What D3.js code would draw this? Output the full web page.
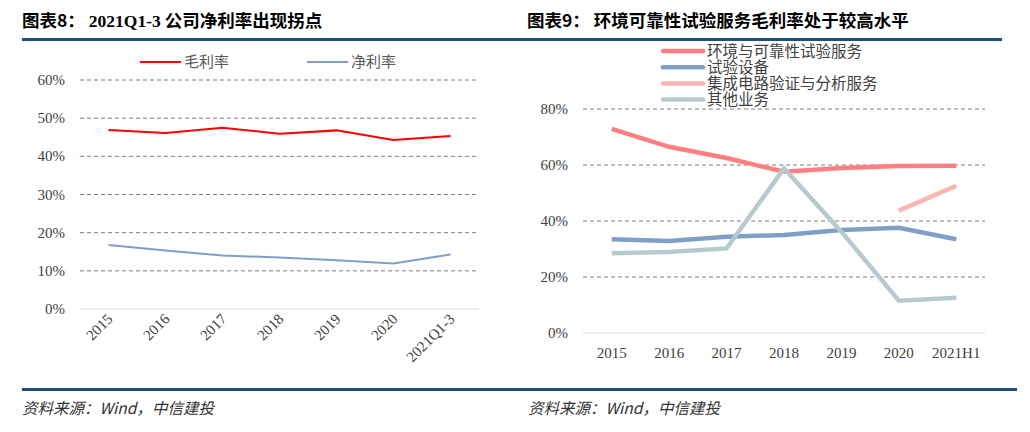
<!DOCTYPE html>
<html>
<head>
<meta charset="utf-8">
<script src="https://cdn.jsdelivr.net/npm/d3@7"></script>
<style>
  body { margin: 0; background: #fff; }
  svg { display: block; }
</style>
</head>
<body>
<svg width="1030" height="432"></svg>
<script>
// left chart data
const leftYears = ['2015', '2016', '2017', '2018', '2019', '2020', '2021Q1-3'];
const grossMargin = [46.9, 46.1, 47.5, 45.9, 46.8, 44.3, 45.3];
const netMargin = [16.8, 15.3, 14.0, 13.5, 12.8, 11.9, 14.3];
const leftTicks = [0, 10, 20, 30, 40, 50, 60];

// right chart data
const rightYears = ['2015', '2016', '2017', '2018', '2019', '2020', '2021H1'];
const envService = [72.9, 66.5, 62.5, 57.6, 58.9, 59.6, 59.7];
const testEquip = [33.5, 32.9, 34.4, 35.0, 36.8, 37.6, 33.5];
const icService = [null, null, null, null, null, 43.7, 52.6];
const otherBiz = [28.5, 28.9, 30.2, 58.8, 36.2, 11.5, 12.6];
const rightTicks = [0, 20, 40, 60, 80];

const svg = d3.select('svg');
const cjk = '"Noto Sans CJK SC", sans-serif';
const serif = '"Liberation Serif", "Times New Roman", serif';

// titles and rules
const t1 = svg.append('text').attr('x', 22).attr('y', 27)
    .attr('font-family', cjk).attr('font-weight', 'bold').attr('font-size', 17.5).attr('fill', '#000');
t1.append('tspan').text('图表8： ');
t1.append('tspan').attr('font-family', serif).text('2021Q1-3');
t1.append('tspan').text(' 公司净利率出现拐点');
svg.append('text').attr('x', 527).attr('y', 27)
    .attr('font-family', cjk).attr('font-weight', 'bold').attr('font-size', 17.5).attr('fill', '#000')
    .text('图表9： 环境可靠性试验服务毛利率处于较高水平');
svg.append('rect').attr('x', 22).attr('y', 38).attr('width', 980).attr('height', 3).attr('fill', '#1f4e79');
svg.append('rect').attr('x', 22).attr('y', 388).attr('width', 995).attr('height', 3).attr('fill', '#1f4e79');
svg.append('text').attr('x', 22).attr('y', 414)
    .attr('font-family', cjk).attr('font-style', 'italic').attr('font-size', 15.5).attr('fill', '#333')
    .text('资料来源：Wind，中信建投');
svg.append('text').attr('x', 528).attr('y', 414)
    .attr('font-family', cjk).attr('font-style', 'italic').attr('font-size', 15.5).attr('fill', '#333')
    .text('资料来源：Wind，中信建投');

// ---------- left chart ----------
const xL = d3.scalePoint().domain(leftYears).range([80, 479]).padding(0.5);
const yL = d3.scaleLinear().domain([0, 60]).range([309, 80]);

const gl = svg.append('g');
gl.selectAll('.grid').data(leftTicks).join('line')
    .attr('x1', 80).attr('x2', 479)
    .attr('y1', d => yL(d)).attr('y2', d => yL(d))
    .attr('stroke', d => d === 0 ? '#d9d9d9' : '#7f7f7f')
    .attr('stroke-width', 1)
    .attr('stroke-dasharray', d => d === 0 ? null : '4,3');
gl.selectAll('.ytick').data(leftTicks).join('text')
    .attr('x', 65).attr('y', d => yL(d) + 5)
    .attr('text-anchor', 'end')
    .attr('font-family', serif).attr('font-size', 15).attr('fill', '#404040')
    .text(d => d + '%');
gl.selectAll('.xtick').data(leftYears).join('text')
    .attr('transform', d => `translate(${xL(d) + 5},${320}) rotate(-45)`)
    .attr('text-anchor', 'end')
    .attr('font-family', serif).attr('font-size', 15).attr('fill', '#404040')
    .text(d => d);

const lineL = d3.line().x((d, i) => xL(leftYears[i])).y(d => yL(d));
gl.append('path').attr('d', lineL(grossMargin)).attr('fill', 'none')
    .attr('stroke', '#ff0000').attr('stroke-width', 2);
gl.append('path').attr('d', lineL(netMargin)).attr('fill', 'none')
    .attr('stroke', '#7f9fc8').attr('stroke-width', 2);

const legL = [
    { name: '毛利率', color: '#ff0000', x: 140 },
    { name: '净利率', color: '#7f9fc8', x: 307 }
];
legL.forEach(l => {
    gl.append('line').attr('x1', l.x).attr('x2', l.x + 41).attr('y1', 62).attr('y2', 62)
        .attr('stroke', l.color).attr('stroke-width', 2);
    gl.append('text').attr('x', l.x + 44).attr('y', 67)
        .attr('font-family', cjk).attr('font-size', 15).attr('fill', '#595959')
        .text(l.name);
});

// ---------- right chart ----------
const xR = d3.scalePoint().domain(rightYears).range([583, 985]).padding(0.5);
const yR = d3.scaleLinear().domain([0, 80]).range([333, 109]);

const gr = svg.append('g');
gr.selectAll('.grid').data(rightTicks).join('line')
    .attr('x1', 583).attr('x2', 985)
    .attr('y1', d => yR(d)).attr('y2', d => yR(d))
    .attr('stroke', d => d === 0 ? '#d9d9d9' : '#7f7f7f')
    .attr('stroke-width', 1)
    .attr('stroke-dasharray', d => d === 0 ? null : '4,3');
gr.selectAll('.ytick').data(rightTicks).join('text')
    .attr('x', 568).attr('y', d => yR(d) + 5)
    .attr('text-anchor', 'end')
    .attr('font-family', serif).attr('font-size', 15).attr('fill', '#404040')
    .text(d => d + '%');
gr.selectAll('.xtick').data(rightYears).join('text')
    .attr('x', d => xR(d)).attr('y', 358)
    .attr('text-anchor', 'middle')
    .attr('font-family', serif).attr('font-size', 15).attr('fill', '#404040')
    .text(d => d);

const seriesR = [
    { name: '环境与可靠性试验服务', values: envService, color: '#ff7f80' },
    { name: '试验设备', values: testEquip, color: '#7ea0c6' },
    { name: '集成电路验证与分析服务', values: icService, color: '#ffb3b3' },
    { name: '其他业务', values: otherBiz, color: '#b6cace' }
];
const lineR = d3.line().defined(d => d !== null)
    .x((d, i) => xR(rightYears[i])).y(d => yR(d));
seriesR.forEach((s, k) => {
    gr.append('path').attr('d', lineR(s.values)).attr('fill', 'none')
        .attr('stroke', s.color).attr('stroke-width', 4.5);
    const ly = 51 + k * 16.2;
    gr.append('line').attr('x1', 663).attr('x2', 703).attr('y1', ly).attr('y2', ly)
        .attr('stroke', s.color).attr('stroke-width', 4.5).attr('stroke-linecap', 'round');
    gr.append('text').attr('x', 707).attr('y', ly + 5.5)
        .attr('font-family', cjk).attr('font-size', 15.5).attr('fill', '#404040')
        .text(s.name);
});
</script>
</body>
</html>
